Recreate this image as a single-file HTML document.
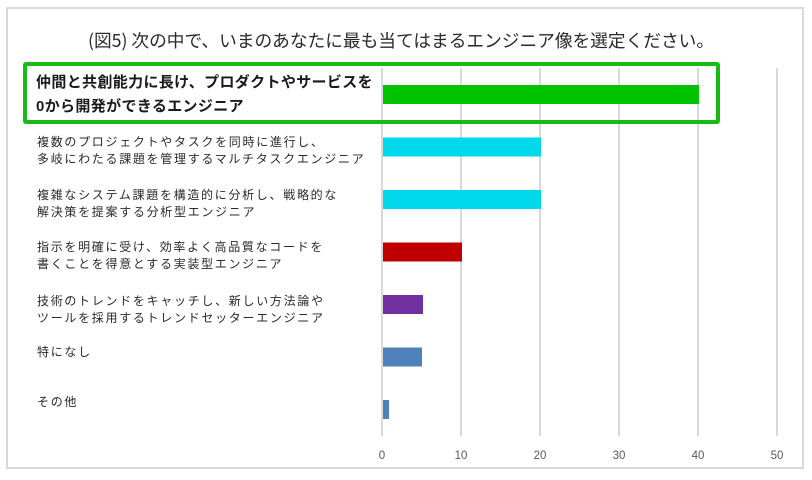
<!DOCTYPE html>
<html lang="ja">
<head>
<meta charset="utf-8">
<style>
  html, body { margin:0; padding:0; background:#fff; }
  body { width:812px; height:480px; position:relative; overflow:hidden;
         font-family:"Liberation Sans","Noto Sans CJK JP",sans-serif; }
  .frame { position:absolute; left:6px; top:7px; width:794px; height:458px;
           border:2px solid #d9d9d9; }
  .title { position:absolute; left:0; width:802px; top:28px; height:24px; line-height:24px;
           text-align:center; font-size:17.7px; color:#2a2a2a;
           font-family:"Noto Sans CJK JP","Liberation Sans",sans-serif; }
  .lbl { position:absolute; left:37px; font-size:12px; line-height:17px; letter-spacing:1.7px;
         color:#2a2a2a; white-space:nowrap;
         font-family:"Liberation Sans","Noto Sans CJK JP",sans-serif; }
  .hl { position:absolute; left:36px; top:71px; font-size:15px; line-height:24px; font-weight:bold;
        letter-spacing:0.35px; color:#1a1a1a; white-space:nowrap;
        font-family:"Liberation Sans","Noto Sans CJK JP",sans-serif; }
  .box { position:absolute; left:23px; top:62px; width:689px; height:54px;
         border:4px solid #16bb16; border-radius:3px; }
  .tick { position:absolute; top:448px; width:30px; margin-left:-15px; text-align:center;
          font-size:11.5px; line-height:16px; color:#595959; }
  svg { position:absolute; left:0; top:0; }
</style>
</head>
<body>
<div class="frame"></div>
<div class="title">(図5) 次の中で、いまのあなたに最も当てはまるエンジニア像を選定ください。</div>

<svg width="812" height="480" viewBox="0 0 812 480">
  <g fill="#d9d9d9">
    <rect x="381" y="68" width="2" height="368"/>
    <rect x="460" y="68" width="2" height="368"/>
    <rect x="539" y="68" width="2" height="368"/>
    <rect x="618" y="68" width="2" height="368"/>
    <rect x="697" y="68" width="2" height="368"/>
    <rect x="776" y="68" width="2" height="368"/>
  </g>
  <rect x="383" y="85" width="316" height="19" fill="#00c300"/>
  <rect x="383" y="137.5" width="158" height="19" fill="#00d8eb"/>
  <rect x="383" y="190" width="158" height="19" fill="#00d8eb"/>
  <rect x="383" y="242.5" width="79" height="19" fill="#c00000"/>
  <rect x="383" y="295" width="40" height="19" fill="#7030a0"/>
  <rect x="383" y="347.5" width="39" height="19" fill="#4f81bd"/>
  <rect x="383" y="400" width="6" height="19" fill="#4f81bd"/>
</svg>

<div class="box"></div>
<div class="hl">仲間と共創能力に長け、プロダクトやサービスを<br>0から開発ができるエンジニア</div>

<div class="lbl" style="top:134px">複数のプロジェクトやタスクを同時に進行し、<br>多岐にわたる課題を管理するマルチタスクエンジニア</div>
<div class="lbl" style="top:187px">複雑なシステム課題を構造的に分析し、戦略的な<br>解決策を提案する分析型エンジニア</div>
<div class="lbl" style="top:238.5px">指示を明確に受け、効率よく高品質なコードを<br>書くことを得意とする実装型エンジニア</div>
<div class="lbl" style="top:293px">技術のトレンドをキャッチし、新しい方法論や<br>ツールを採用するトレンドセッターエンジニア</div>
<div class="lbl" style="top:343.5px">特になし</div>
<div class="lbl" style="top:393.5px">その他</div>

<div class="tick" style="left:382px">0</div>
<div class="tick" style="left:461px">10</div>
<div class="tick" style="left:540px">20</div>
<div class="tick" style="left:619px">30</div>
<div class="tick" style="left:698px">40</div>
<div class="tick" style="left:777px">50</div>
</body>
</html>
